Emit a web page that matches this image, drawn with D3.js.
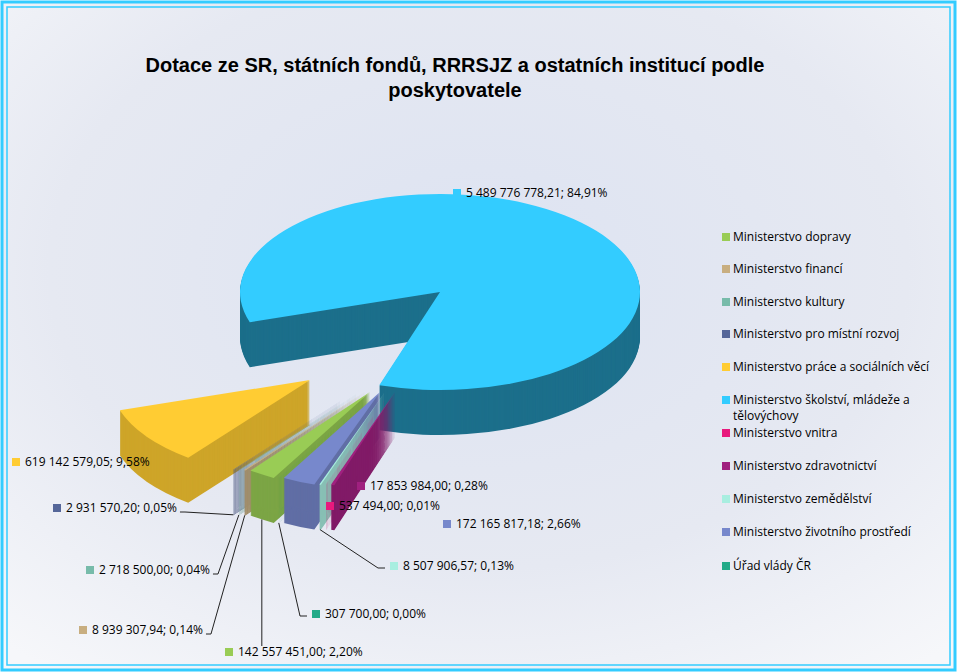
<!DOCTYPE html><html><head><meta charset="utf-8">
<script src="https://cdn.jsdelivr.net/npm/d3@7"></script>
<style>body{margin:0;}svg{display:block}</style></head><body>
<script>
const categories=["Ministerstvo dopravy","Ministerstvo financí","Ministerstvo kultury","Ministerstvo pro místní rozvoj","Ministerstvo práce a sociálních věcí","Ministerstvo školství, mládeže a tělovýchovy","Ministerstvo vnitra","Ministerstvo zdravotnictví","Ministerstvo zemědělství","Ministerstvo životního prostředí","Úřad vlády ČR"];
const values=[142557451.00,8939307.94,2718500.00,2931570.20,619142579.05,5489776778.21,537494.00,17853984.00,8507906.57,172165817.18,307700.00];
const valueLabels=["142 557 451,00; 2,20%","8 939 307,94; 0,14%","2 718 500,00; 0,04%","2 931 570,20; 0,05%","619 142 579,05; 9,58%","5 489 776 778,21; 84,91%","537 494,00; 0,01%","17 853 984,00; 0,28%","8 507 906,57; 0,13%","172 165 817,18; 2,66%","307 700,00; 0,00%"];
const colors=["#99CC55","#C8AE80","#77BBAA","#556699","#FFCC33","#33CCFF","#E8197D","#A0207F","#A8EEE0","#7788CC","#22AA88"];
const pieOrder=[5,7,6,8,9,10,0,1,2,3,4];
const lab={5:[453,193],4:[12,462],3:[53,508],2:[86,570],1:[79,630],0:[225,652],10:[312,614],8:[390,566],9:[443,524],6:[326,506],7:[357,486]};
const W=957,H=672,cx=440,cy=292,R=200,tilt=0.49,depth=45;
const svg=d3.select("body").append("svg").attr("width",W).attr("height",H).style("font-family","'Open Sans',sans-serif");
const defs=svg.append("defs");
const g=defs.append("radialGradient").attr("id","bg").attr("cx","50%").attr("cy","40%").attr("r","75%");
g.append("stop").attr("offset","0%").attr("stop-color","#dde3f2");
g.append("stop").attr("offset","60%").attr("stop-color","#e6e9f2");
g.append("stop").attr("offset","100%").attr("stop-color","#f6f7fa");
svg.append("rect").attr("width",W).attr("height",H).attr("fill","#fff");
svg.append("rect").attr("x",2).attr("y",2).attr("width",W-4).attr("height",H-4).attr("fill","url(#bg)").attr("stroke","#33ccff").attr("stroke-width",3);
svg.append("rect").attr("x",7).attr("y",7).attr("width",W-14).attr("height",H-14).attr("fill","none").attr("stroke","#33ccff").attr("stroke-width",1.5);
svg.append("text").attr("x",455).attr("y",72).attr("text-anchor","middle").attr("font-family","Liberation Sans,Arial").attr("font-weight","bold").attr("font-size",20).text("Dotace ze SR, státních fondů, RRRSJZ a ostatních institucí podle");
svg.append("text").attr("x",455).attr("y",97).attr("text-anchor","middle").attr("font-family","Liberation Sans,Arial").attr("font-weight","bold").attr("font-size",20).text("poskytovatele");

const total=d3.sum(values);
const ang=d3.scaleLinear().domain([0,total]).range([0,2*Math.PI]);
const start0=252/180*Math.PI;
let acc=0;const slices=[];
pieOrder.forEach(i=>{const a0=start0+ang(acc);acc+=values[i];const a1=start0+ang(acc);slices.push({i,a0,a1});});
let k=0;
slices.forEach(s=>{
  s.mid=(s.a0+s.a1)/2;
  if(s.i===5){s.ox=0;s.oy=0;}
  else if(s.i===4){s.ox=-130;s.oy=88;}
  else{s.ox=-45-k*5;s.oy=100;k++;}
});
const arc=d3.arc().innerRadius(0).outerRadius(R);
const layer=svg.append("g");
const proj=(s,a,r,dy)=>[cx+s.ox+r*Math.sin(a),cy+s.oy-r*Math.cos(a)*tilt+(dy||0)];
const drawOrder=[slices.find(s=>s.i===5)].concat(slices.filter(s=>s.i!==5).sort((a,b)=>proj(a,a.mid,R)[0]-proj(b,b.mid,R)[0]));
drawOrder.forEach(s=>{
  const gg=layer.append("g");
  const dark=d3.color(colors[s.i]).darker(s.i===5?1.7:0.6);
  for(let d=depth;d>0;d-=1){
    gg.append("path").attr("d",arc({startAngle:s.a0,endAngle:s.a1}))
      .attr("transform",`translate(${cx+s.ox},${cy+s.oy+d}) scale(1,${tilt})`).attr("fill",dark);
  }
  gg.append("path").attr("d",arc({startAngle:s.a0,endAngle:s.a1}))
    .attr("transform",`translate(${cx+s.ox},${cy+s.oy}) scale(1,${tilt})`).attr("fill",colors[s.i]);
});
slices.forEach(s=>{
  const [lx,ly]=lab[s.i];
  svg.append("rect").attr("x",lx).attr("y",ly-4).attr("width",8).attr("height",8).attr("fill",colors[s.i]);
  const t=svg.append("text").attr("x",lx+13).attr("y",ly+4).attr("font-size",12).text(valueLabels[s.i]);
  const small=[3,2,1,0,10,8].includes(s.i);
  if(small){
    const p=proj(s,s.mid,R,depth);
    const tw=t.node().getComputedTextLength();
    let pts;
    if(p[0]>lx+13+tw){pts=[[lx+13+tw+3,ly+4],[lx+13+tw+8,ly+4],p];}
    else{pts=[[lx-5,ly+2],[lx-12,ly+2],p];}
    if(s.i===0)pts=[[p[0],ly-6],p];
    svg.append("path").attr("d",d3.line()(pts)).attr("fill","none").attr("stroke","#222").attr("stroke-width",1);
  }
});
const lg=svg.append("g").attr("font-size",12);
const lys=[237,269,302,334,367,400,433,466,499,532,566];
categories.forEach((c,j)=>{
  lg.append("rect").attr("x",722).attr("y",lys[j]-4).attr("width",8).attr("height",8).attr("fill",colors[j]);
  if(j===5){lg.append("text").attr("x",733).attr("y",lys[j]+4).text("Ministerstvo školství, mládeže a");lg.append("text").attr("x",733).attr("y",lys[j]+20).text("tělovýchovy");}
  else lg.append("text").attr("x",733).attr("y",lys[j]+4).text(c);
});
</script></body></html>
